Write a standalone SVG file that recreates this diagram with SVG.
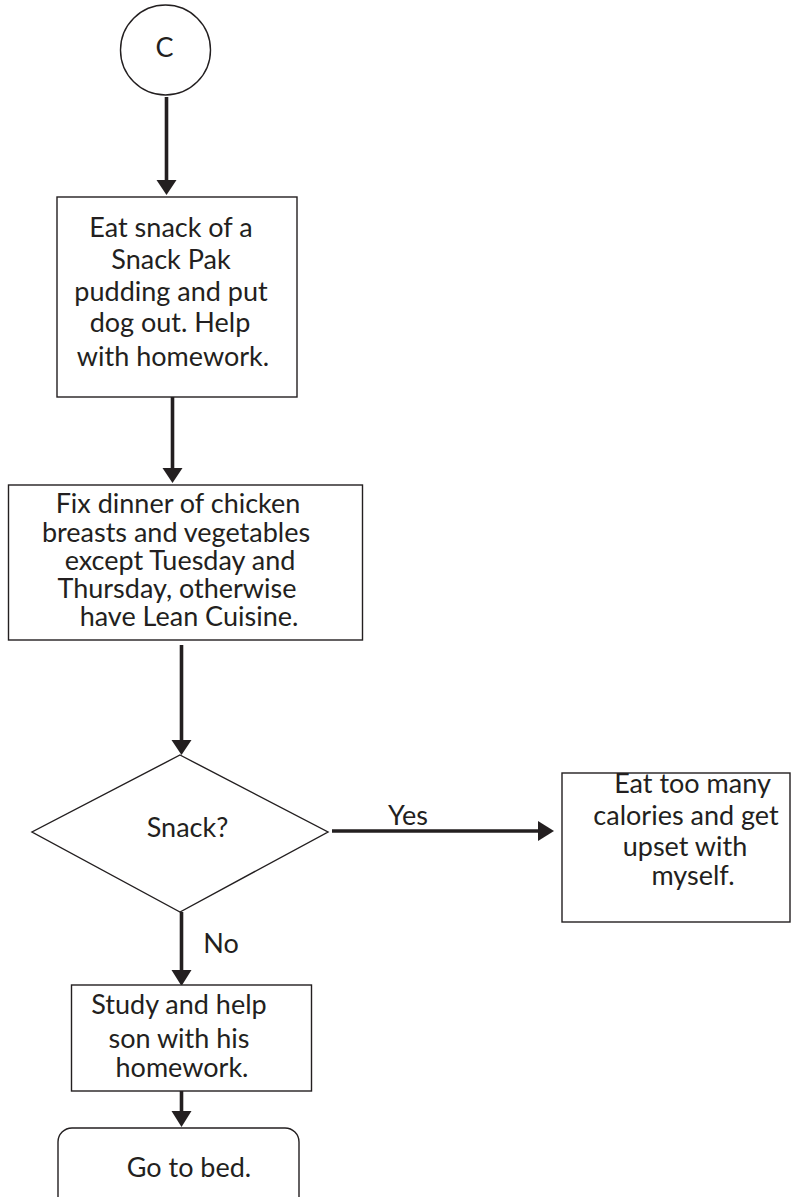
<svg xmlns="http://www.w3.org/2000/svg" width="791" height="1197" viewBox="0 0 791 1197">
  <style>
    .shape { fill: #ffffff; stroke: #231f20; stroke-width: 1.4; }
    .label { font-family: Lato, "Open Sans", "Liberation Sans", sans-serif; font-size: 27px; fill: #231f20; text-anchor: middle; }
    .big { font-size: 27px; }
    .flow { stroke: #231f20; stroke-width: 3.6; fill: none; }
    .tip { fill: #231f20; }
  </style>
  <rect width="791" height="1197" fill="#ffffff"/>

  <!-- connectors with filled arrowheads -->
  <g id="connectors">
    <line class="flow" x1="166.5" y1="97" x2="166.5" y2="182"/>
    <polygon class="tip" points="156.5,180 176.5,180 166.5,195"/>

    <line class="flow" x1="172.5" y1="397" x2="172.5" y2="470"/>
    <polygon class="tip" points="162.5,468 182.5,468 172.5,483"/>

    <line class="flow" x1="181.5" y1="645" x2="181.5" y2="742"/>
    <polygon class="tip" points="171.5,740 191.5,740 181.5,755"/>

    <line class="flow" x1="332" y1="831" x2="540" y2="831"/>
    <polygon class="tip" points="538,821 538,841 554,831"/>
    <text class="label" x="408" y="825">Yes</text>

    <line class="flow" x1="181.5" y1="912" x2="181.5" y2="972"/>
    <polygon class="tip" points="171.5,970 191.5,970 181.5,986"/>
    <text class="label" x="221" y="953">No</text>

    <line class="flow" x1="181.5" y1="1091" x2="181.5" y2="1113"/>
    <polygon class="tip" points="171.5,1111 191.5,1111 181.5,1127"/>
  </g>

  <!-- connector C -->
  <g id="start">
    <circle class="shape" cx="165.5" cy="50" r="45"/>
    <text class="label" x="164.5" y="57">C</text>
  </g>

  <g id="snack-pak">
    <rect class="shape" x="57" y="197" width="240" height="200"/>
    <text class="label" x="171" y="237">Eat snack of a</text>
    <text class="label" x="171" y="269">Snack Pak</text>
    <text class="label" x="171" y="301">pudding and put</text>
    <text class="label" x="170" y="332">dog out. Help</text>
    <text class="label" x="173" y="366">with homework.</text>
  </g>

  <g id="dinner">
    <rect class="shape" x="8.5" y="485" width="354" height="155"/>
    <text class="label big" x="178" y="513">Fix dinner of chicken</text>
    <text class="label big" x="176" y="542">breasts and vegetables</text>
    <text class="label big" x="180" y="570">except Tuesday and</text>
    <text class="label big" x="177" y="598">Thursday, otherwise</text>
    <text class="label big" x="189" y="626">have Lean Cuisine.</text>
  </g>

  <g id="snack-decision">
    <polygon class="shape" points="180,755 328,832 180,912 32,832"/>
    <text class="label" x="187.5" y="837">Snack?</text>
  </g>

  <g id="too-many-calories">
    <rect class="shape" x="562" y="773" width="228" height="149"/>
    <text class="label" x="692.5" y="793">Eat too many</text>
    <text class="label" x="686" y="825">calories and get</text>
    <text class="label" x="685" y="856">upset with</text>
    <text class="label" x="693" y="885">myself.</text>
  </g>

  <g id="study">
    <rect class="shape" x="71.5" y="985" width="240" height="106"/>
    <text class="label" x="179" y="1014">Study and help</text>
    <text class="label" x="179" y="1048">son with his</text>
    <text class="label" x="182" y="1077">homework.</text>
  </g>

  <g id="bed">
    <rect class="shape" x="58" y="1128" width="241" height="90" rx="14" ry="14"/>
    <text class="label" x="189" y="1177">Go to bed.</text>
  </g>
</svg>
